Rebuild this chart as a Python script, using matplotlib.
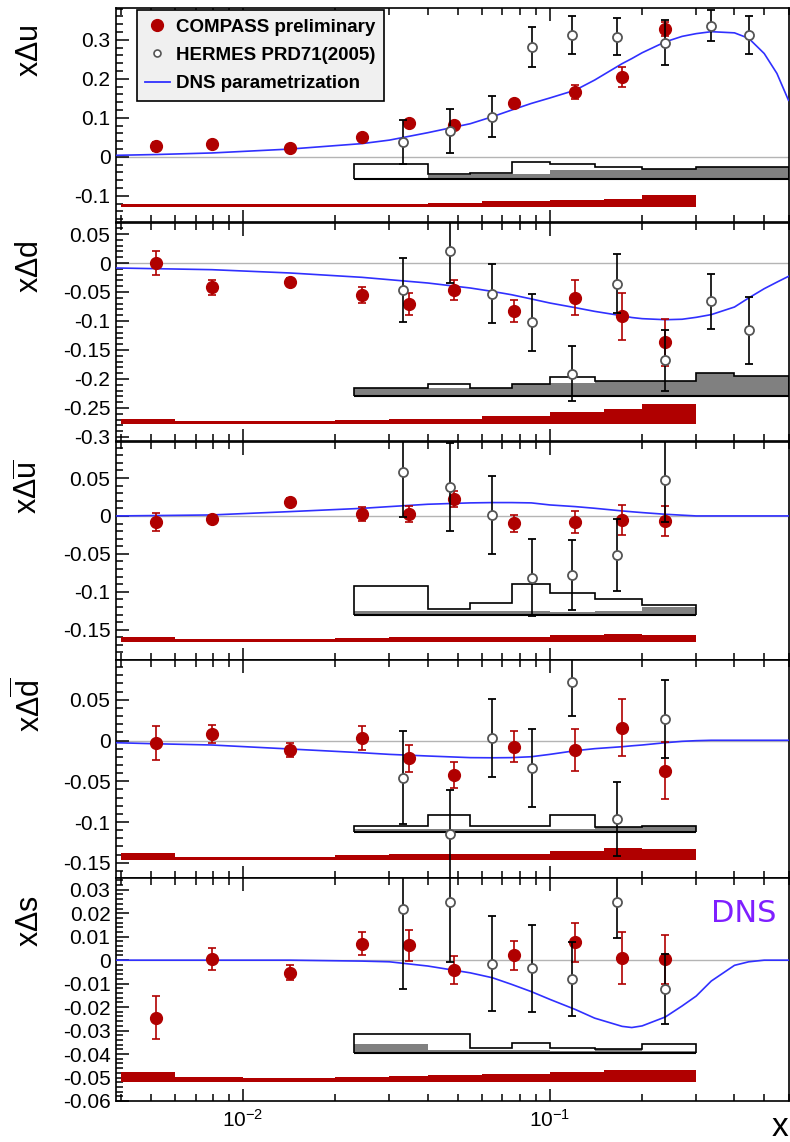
import numpy as np
import matplotlib
matplotlib.use('Agg')
import matplotlib.pyplot as plt
from matplotlib.ticker import MultipleLocator, AutoMinorLocator, LogLocator, NullFormatter, FuncFormatter
from matplotlib.lines import Line2D

plt.rcParams['font.family'] = ['Liberation Sans', 'DejaVu Sans']
plt.rcParams['axes.unicode_minus'] = False
plt.rcParams['mathtext.fontset'] = 'custom'
plt.rcParams['mathtext.rm'] = 'Liberation Sans'
plt.rcParams['mathtext.it'] = 'Liberation Sans'
plt.rcParams['mathtext.sf'] = 'Liberation Sans'

# x positions of the data points and bin edges of the systematic bands
compass_x = [0.0052, 0.0079, 0.0142, 0.0244, 0.0347, 0.0486, 0.0762, 0.121, 0.172, 0.238]
hermes_x = [0.0331, 0.0474, 0.0647, 0.0872, 0.118, 0.165, 0.238, 0.336, 0.445]
compass_edges = [0.004, 0.006, 0.01, 0.02, 0.03, 0.04, 0.06, 0.1, 0.15, 0.2, 0.3]
hermes_edges = [0.023, 0.04, 0.055, 0.075, 0.1, 0.14, 0.2, 0.3, 0.4, 0.6]
dns_x = [0.00385, 0.0052, 0.0079, 0.0142, 0.0244, 0.03, 0.04, 0.055, 0.065, 0.075, 0.087,
         0.1, 0.121, 0.14, 0.172, 0.185, 0.2, 0.238, 0.27, 0.3, 0.336, 0.4, 0.445, 0.5, 0.55, 0.6]

# x Delta u
u_compass = [0.027, 0.033, 0.023, 0.050, 0.087, 0.082, 0.139, 0.167, 0.205, 0.329]
u_compass_err = [0.012, 0.005, 0.005, 0.005, 0.008, 0.008, 0.006, 0.018, 0.025, 0.018]
u_hermes = [0.038, 0.066, 0.103, 0.282, 0.313, 0.308, 0.293, 0.336, 0.313]
u_hermes_err = [0.056, 0.056, 0.053, 0.052, 0.048, 0.048, 0.058, 0.040, 0.048]
u_dns = [0.004, 0.006, 0.010, 0.020, 0.034, 0.043, 0.062, 0.085, 0.103, 0.120, 0.137,
         0.151, 0.171, 0.197, 0.239, 0.252, 0.267, 0.295, 0.309, 0.316, 0.321, 0.318, 0.304,
         0.265, 0.214, 0.145]
u_syst_h_line = [0.040, 0.013, 0.016, 0.043, 0.040, 0.030, 0.025, 0.031, 0.031]
u_syst_h_fill = [0.003, 0.010, 0.014, 0.014, 0.023, 0.023, 0.027, 0.031, 0.031]
u_syst_c = [0.007, 0.006, 0.006, 0.007, 0.008, 0.0085, 0.0145, 0.017, 0.021, 0.030]

# x Delta d
d_compass = [0.0, -0.042, -0.033, -0.055, -0.071, -0.046, -0.083, -0.060, -0.092, -0.137]
d_compass_err = [0.020, 0.0135, 0.007, 0.0135, 0.019, 0.017, 0.019, 0.030, 0.041, 0.041]
d_hermes = [-0.046, 0.020, -0.053, -0.102, -0.191, -0.036, -0.168, -0.066, -0.116]
d_hermes_err = [0.055, 0.055, 0.051, 0.049, 0.047, 0.051, 0.053, 0.047, 0.058]
d_dns = [-0.0086, -0.0098, -0.0115, -0.0172, -0.0247, -0.0288, -0.0345, -0.0431, -0.049,
         -0.0547, -0.062, -0.069, -0.077, -0.0834, -0.091, -0.094, -0.096, -0.0978, -0.097,
         -0.0937, -0.089, -0.0759, -0.0603, -0.0443, -0.033, -0.023]
d_syst_h_line = [0.0145, 0.0214, 0.0145, 0.0219, 0.0328, 0.0259, 0.0259, 0.0403, 0.0357]
d_syst_h_fill = [0.0145, 0.0145, 0.0145, 0.0219, 0.023, 0.0259, 0.0259, 0.0403, 0.0357]
d_syst_c = [0.008, 0.005, 0.005, 0.007, 0.008, 0.0086, 0.0126, 0.0195, 0.025, 0.0345]

# x Delta ubar
ub_compass = [-0.0084, -0.0044, 0.019, 0.0026, 0.0026, 0.0225, -0.0097, -0.0084, -0.0053, -0.0066]
ub_compass_err = [0.0117, 0.004, 0.005, 0.009, 0.011, 0.0104, 0.011, 0.0146, 0.020, 0.020]
ub_hermes = [0.058, 0.038, 0.0013, -0.0816, -0.078, -0.0516, 0.0476]
ub_hermes_err = [0.059, 0.058, 0.052, 0.051, 0.046, 0.047, 0.055]
ub_dns = [0.0, 0.0005, 0.0013, 0.0057, 0.010, 0.0123, 0.0154, 0.0172, 0.0176, 0.0176, 0.0172,
          0.0145, 0.0123, 0.0101, 0.0066, 0.0055, 0.0044, 0.0022, 0.001, 0.0, 0.0, 0.0, 0.0,
          0.0, 0.0, 0.0]
ub_syst_h_line = [0.0375, 0.0066, 0.015, 0.0397, 0.0282, 0.0198, 0.0128]
ub_syst_h_fill = [0.004, 0.004, 0.004, 0.004, 0.003, 0.004, 0.0097]
ub_syst_c = [0.0066, 0.0035, 0.0035, 0.0044, 0.0066, 0.0066, 0.0066, 0.0088, 0.010, 0.0088]

# x Delta dbar
db_compass = [-0.0035, 0.008, -0.0117, 0.0027, -0.022, -0.042, -0.0076, -0.0117, 0.0157, -0.037]
db_compass_err = [0.021, 0.011, 0.0088, 0.0147, 0.017, 0.016, 0.019, 0.026, 0.035, 0.035]
db_hermes = [-0.0456, -0.115, 0.0034, -0.034, 0.0714, -0.0963, 0.026]
db_hermes_err = [0.057, 0.054, 0.048, 0.048, 0.041, 0.046, 0.048]
db_dns = [-0.0027, -0.004, -0.0055, -0.0104, -0.015, -0.017, -0.019, -0.021, -0.0212, -0.021,
          -0.0199, -0.017, -0.0125, -0.010, -0.0076, -0.0065, -0.0055, -0.0027, -0.001, -0.0002,
          0.0003, 0.0003, 0.0003, 0.0003, 0.0003, 0.0003]
db_syst_h_line = [0.0082, 0.0213, 0.0082, 0.0082, 0.0213, 0.007, 0.0082]
db_syst_h_fill = [0.004, 0.004, 0.004, 0.004, 0.004, 0.007, 0.0082]
db_syst_c = [0.0094, 0.0045, 0.0045, 0.007, 0.0078, 0.0078, 0.0078, 0.0115, 0.0155, 0.014]

# x Delta s
s_compass = [-0.0245, 0.0003, -0.0054, 0.007, 0.0064, -0.0042, 0.002, 0.0076, 0.001, 0.0003]
s_compass_err = [0.0092, 0.0047, 0.0032, 0.005, 0.0066, 0.0061, 0.0061, 0.0082, 0.011, 0.0106]
s_hermes = [0.0218, 0.0246, -0.0015, -0.0035, -0.0079, 0.0246, -0.0124]
s_hermes_err = [0.034, 0.0253, 0.0202, 0.0185, 0.0157, 0.0152, 0.015]
s_dns = [0.0, 0.0, 0.0, 0.0, -0.0004, -0.0007, -0.0025, -0.0054, -0.0075, -0.0103, -0.0134,
         -0.0167, -0.021, -0.0247, -0.0282, -0.0287, -0.028, -0.0242, -0.0195, -0.0153, -0.0089,
         -0.0022, -0.0007, 0.0, 0.0, 0.0]
s_syst_h_line = [0.0081, 0.0081, 0.002, 0.0045, 0.002, 0.0016, 0.0038]
s_syst_h_fill = [0.0038, 0.0013, 0.0013, 0.0013, 0.001, 0.0016, 0.001]
s_syst_c = [0.0042, 0.0021, 0.0017, 0.0024, 0.0028, 0.003, 0.0035, 0.0042, 0.0052, 0.0052]

labels = [r'$x\Delta u$', r'$x\Delta d$', r'$x\Delta\overline{u}$', r'$x\Delta\overline{d}$', r'$x\Delta s$']
ylims = [(-0.167, 0.383), (-0.307, 0.069), (-0.19, 0.0975), (-0.1687, 0.0988), (-0.06, 0.035)]
ymajor = [0.1, 0.05, 0.05, 0.05, 0.01]
hermes_base = [-0.057, -0.23, -0.13, -0.1127, -0.0396]
compass_base = [-0.128, -0.277, -0.166, -0.147, -0.052]

panels = [
    (u_compass, u_compass_err, u_hermes, u_hermes_err, u_dns, u_syst_h_line, u_syst_h_fill, u_syst_c),
    (d_compass, d_compass_err, d_hermes, d_hermes_err, d_dns, d_syst_h_line, d_syst_h_fill, d_syst_c),
    (ub_compass, ub_compass_err, ub_hermes, ub_hermes_err, ub_dns, ub_syst_h_line, ub_syst_h_fill, ub_syst_c),
    (db_compass, db_compass_err, db_hermes, db_hermes_err, db_dns, db_syst_h_line, db_syst_h_fill, db_syst_c),
    (s_compass, s_compass_err, s_hermes, s_hermes_err, s_dns, s_syst_h_line, s_syst_h_fill, s_syst_c),
]

red = '#b00000'
blue = '#3030ff'
W, H = 790, 1142
rows = [(7.5, 222), (223, 441), (442, 660), (660, 878), (878, 1101)]
left_px, right_px = 116, 788.5

fig = plt.figure(figsize=(W / 100, H / 100), dpi=100)


def fmt(v, pos):
    v = round(v, 5)
    if v == 0:
        return '0'
    return '%g' % v


axes = []
for i, (top, bot) in enumerate(rows):
    ax = fig.add_axes([left_px / W, 1 - bot / H, (right_px - left_px) / W, (bot - top) / H])
    axes.append(ax)
    c, ce, h, he, dns, sl, sf, sc = panels[i]
    nh = len(h)
    edges_h = hermes_edges[:nh + 1]

    ax.axhline(0, color='#b4b4b4', lw=1, zorder=1)

    # systematic bands
    hb = hermes_base[i]
    ax.stairs(hb + np.array(sf[:nh]), edges_h, baseline=hb, fill=True, color='#808080', lw=0, zorder=2)
    ax.stairs(hb + np.array(sl[:nh]), edges_h, baseline=hb, fill=False, color='black', lw=1.2, zorder=2.5)
    ax.hlines(hb, edges_h[0], edges_h[-1], color='black', lw=1.5, zorder=2.5)
    cb = compass_base[i]
    ax.stairs(cb + np.array(sc), compass_edges, baseline=cb, fill=True, color=red, lw=0, zorder=2)

    # parametrization
    ax.plot(dns_x, dns, color=blue, lw=1.2, zorder=3)

    # data
    ax.errorbar(compass_x, c, yerr=ce, fmt='o', color=red, ms=8.5, capsize=3.2,
                elinewidth=1.2, capthick=1.2, zorder=4)
    ax.errorbar(hermes_x[:nh], h, yerr=he, fmt='o', mfc='white', mec='#555555', mew=1.3,
                ms=6.5, ecolor='black', capsize=3.2, elinewidth=1.2, capthick=1.2, zorder=5)

    ax.set_xscale('log')
    ax.set_xlim(0.00385, 0.6)
    ax.set_ylim(*ylims[i])
    ax.xaxis.set_major_locator(LogLocator(base=10, numticks=10))
    ax.xaxis.set_minor_locator(LogLocator(base=10, subs=np.arange(2, 10), numticks=20))
    ax.xaxis.set_minor_formatter(NullFormatter())
    ax.yaxis.set_major_locator(MultipleLocator(ymajor[i]))
    ax.yaxis.set_minor_locator(AutoMinorLocator(5))
    ax.yaxis.set_major_formatter(FuncFormatter(fmt))
    ax.tick_params(which='both', direction='in', top=True, right=False, labelsize=15, pad=4)
    ax.tick_params(which='major', length=9, width=1.1)
    ax.tick_params(which='minor', length=5, width=1.1)
    for sp in ax.spines.values():
        sp.set_linewidth(1.2)
    if i < 4:
        ax.tick_params(labelbottom=False)
    else:
        ax.tick_params(axis='x', pad=6)

    fig.text(30 / W, 1 - (top + 17) / H, labels[i], rotation=90, fontsize=22, ha='center', va='top')

# legend
h1 = Line2D([], [], marker='o', ls='none', color=red, ms=8.5)
h2 = Line2D([], [], marker='o', ls='none', mfc='white', mec='#555555', mew=1.2, ms=5)
h3 = Line2D([], [], color=blue, lw=1.3)
leg = axes[0].legend([h1, h2, h3], ['COMPASS preliminary', 'HERMES PRD71(2005)', 'DNS parametrization'],
                     loc='upper left', bbox_to_anchor=(0.031, 0.988), frameon=True, fancybox=False,
                     edgecolor='black', facecolor='#f0f0f0', framealpha=1, borderaxespad=0,
                     prop={'weight': 'bold', 'size': 13.5}, handlelength=1.3, handletextpad=0.35,
                     labelspacing=0.6, borderpad=0.45)
leg.get_frame().set_linewidth(1.2)

axes[4].text(0.933, 0.843, 'DNS', transform=axes[4].transAxes, color='#7f1fff', fontsize=22,
             family='DejaVu Sans', ha='center', va='center')

fig.text(780 / W, 1 - 1128 / H, 'x', fontsize=24, ha='center', va='center')

fig.savefig('out.png', dpi=100)
